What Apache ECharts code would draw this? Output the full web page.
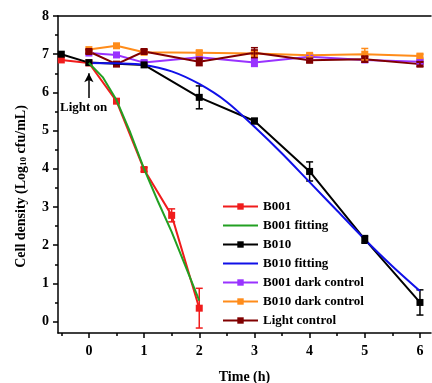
<!DOCTYPE html>
<html>
<head>
<meta charset="utf-8">
<script src="https://cdn.jsdelivr.net/npm/echarts@6/dist/echarts.min.js"></script>
<style>
  html, body { margin: 0; padding: 0; background: #fff; }
  #chart { width: 432px; height: 383px; }
</style>
</head>
<body>
<div id="chart"></div>
<script>
// measured points (time in h, log10 cfu/mL)
const b001Time = [-0.5, 0, 0.5, 1, 1.5, 2]
const b001Vals = [6.85, 6.77, 5.77, 3.98, 2.78, 0.35]
const b001Err = [0, 0, 0.05, 0.05, 0.17, 0.52]

const b001FitTime = [0, 0.25, 0.5, 0.75, 1, 1.25, 1.5, 1.75, 2]
const b001FitVals = [6.77, 6.4, 5.8, 4.95, 4.0, 3.15, 2.35, 1.45, 0.55]

const b010Time = [-0.5, 0, 1, 2, 3, 4, 5, 6]
const b010Vals = [7.0, 6.78, 6.72, 5.87, 5.25, 3.93, 2.15, 0.5]
const b010Err = [0, 0, 0, 0.3, 0.07, 0.25, 0.1, 0.33]

const b010FitTime = [0, 0.5, 1, 1.5, 2, 2.5, 3, 3.5, 4, 4.5, 5, 5.5, 6]
const b010FitVals = [6.77, 6.76, 6.72, 6.55, 6.22, 5.75, 5.1, 4.4, 3.65, 2.9, 2.15, 1.45, 0.8]

const ctrlTime = [0, 0.5, 1, 2, 3, 4, 5, 6]
const b001DarkVals = [7.03, 6.98, 6.78, 6.92, 6.78, 6.93, 6.85, 6.8]
const b001DarkErr = [0, 0.06, 0.05, 0, 0.1, 0.04, 0, 0.05]
const b010DarkVals = [7.12, 7.22, 7.05, 7.04, 7.02, 6.97, 7.0, 6.95]
const b010DarkErr = [0, 0, 0, 0.05, 0.05, 0.04, 0.15, 0.05]
const lightCtrlVals = [7.07, 6.74, 7.07, 6.8, 7.04, 6.84, 6.87, 6.74]
const lightCtrlErr = [0.05, 0.05, 0.05, 0.1, 0.13, 0.05, 0.08, 0.06]

const xMajor = [0, 1, 2, 3, 4, 5, 6]
const xMinor = [-0.5, 0.5, 1.5, 2.5, 3.5, 4.5, 5.5]
const yMajor = [0, 1, 2, 3, 4, 5, 6, 7, 8]
const yMinor = [0.5, 1.5, 2.5, 3.5, 4.5, 5.5, 6.5, 7.5]

const colors = {
    b001: '#f01c1c',
    b001Fit: '#22a022',
    b010: '#000000',
    b010Fit: '#1010e8',
    b001Dark: '#9933ff',
    b010Dark: '#ff8c1a',
    light: '#800000'
}

const font = '"Liberation Serif", "Times New Roman", serif'
const lineIcon = 'path://M0,0 H35 V2 H0 Z'

const pairs = (xs, ys) => xs.map((x, i) => [x, ys[i]])
const errPairs = (xs, ys, es) => xs.map((x, i) => [x, ys[i], es[i]]).filter(d => d[2] > 0)

const errorBars = (data, color) => ({
    type: 'custom',
    silent: true,
    data: data,
    z: 3,
    renderItem: function (params, api) {
        const x = api.value(0), y = api.value(1), e = api.value(2)
        const top = api.coord([x, y + e])
        const bot = api.coord([x, y - e])
        const w = 3.5
        const style = { stroke: color, lineWidth: 1.5 }
        return {
            type: 'group',
            children: [
                { type: 'line', shape: { x1: top[0], y1: top[1], x2: bot[0], y2: bot[1] }, style },
                { type: 'line', shape: { x1: top[0] - w, y1: top[1], x2: top[0] + w, y2: top[1] }, style },
                { type: 'line', shape: { x1: bot[0] - w, y1: bot[1], x2: bot[0] + w, y2: bot[1] }, style }
            ]
        }
    }
})

const lineSeries = (name, data, color, withSymbol, z) => ({
    name: name,
    type: 'line',
    data: data,
    color: color,
    symbol: withSymbol ? 'rect' : 'none',
    symbolSize: 7,
    smooth: false,
    z: z,
    lineStyle: { width: 2, color: color },
    itemStyle: { color: color },
    emphasis: { disabled: true }
})

const axisText = { color: '#000', fontFamily: font, fontWeight: 'bold', fontSize: 14 }

const chart = echarts.init(document.getElementById('chart'), null, { renderer: 'canvas' })

const option = {
    animation: false,
    grid: { left: 58, right: 1, top: 16, bottom: 50, containLabel: false, outerBoundsMode: 'none' },
    legend: {
        orient: 'vertical',
        left: 217,
        top: 195,
        itemWidth: 35,
        itemHeight: 8,
        itemGap: 6,
        textStyle: { color: '#000', fontFamily: font, fontWeight: 'bold', fontSize: 13 },
        data: [
            'B001',
            { name: 'B001 fitting', icon: lineIcon },
            'B010',
            { name: 'B010 fitting', icon: lineIcon },
            'B001 dark control',
            'B010 dark control',
            'Light control'
        ]
    },
    xAxis: [
        {
            type: 'value', min: -0.56, max: 6.2, position: 'bottom',
            axisLine: { onZero: false, lineStyle: { color: '#000', width: 1.5 } },
            axisTick: { customValues: xMajor, length: 5, lineStyle: { color: '#000', width: 1.5 } },
            axisLabel: Object.assign({ customValues: xMajor, margin: 11 }, axisText),
            splitLine: { show: false },
            name: 'Time (h)', nameLocation: 'middle', nameGap: 37,
            nameTextStyle: Object.assign({}, axisText, { fontSize: 14 })
        },
        {
            type: 'value', min: -0.56, max: 6.2, position: 'bottom',
            axisLine: { show: false, onZero: false },
            axisTick: { customValues: xMinor, length: 3, lineStyle: { color: '#000', width: 1.5 } },
            axisLabel: { show: false },
            splitLine: { show: false }
        },
        {
            type: 'value', min: -0.56, max: 6.2, position: 'top',
            axisLine: { onZero: false, lineStyle: { color: '#000', width: 1.5 } },
            axisTick: { show: false },
            axisLabel: { show: false },
            splitLine: { show: false }
        }
    ],
    yAxis: [
        {
            type: 'value', min: -0.3, max: 8, position: 'left',
            axisLine: { show: true, onZero: false, lineStyle: { color: '#000', width: 1.5 } },
            axisTick: { show: true, customValues: yMajor, length: 5, lineStyle: { color: '#000', width: 1.5 } },
            axisLabel: Object.assign({ customValues: yMajor, margin: 9 }, axisText),
            splitLine: { show: false },
            name: '{a|Cell density (Log}{s|10}{a| cfu/mL)}',
            nameLocation: 'middle', nameGap: 30,
            nameTextStyle: {
                padding: [0, 24, 0, 0],
                rich: {
                    a: { color: '#000', fontFamily: font, fontWeight: 'bold', fontSize: 14 },
                    s: { color: '#000', fontFamily: font, fontWeight: 'bold', fontSize: 9, verticalAlign: 'bottom', lineHeight: 10 }
                }
            }
        },
        {
            type: 'value', min: -0.3, max: 8, position: 'left',
            axisLine: { show: false, onZero: false },
            axisTick: { show: true, customValues: yMinor, length: 3, lineStyle: { color: '#000', width: 1.5 } },
            axisLabel: { show: false },
            splitLine: { show: false }
        }
    ],
    graphic: [
        {
            type: 'text', left: 60, top: 101,
            style: { text: 'Light on', fill: '#000', font: 'bold 13px ' + font }
        }
    ],
    series: [
        lineSeries('B001 dark control', pairs(ctrlTime, b001DarkVals), colors.b001Dark, true, 2),
        lineSeries('B010 dark control', pairs(ctrlTime, b010DarkVals), colors.b010Dark, true, 2),
        lineSeries('Light control', pairs(ctrlTime, lightCtrlVals), colors.light, true, 2),
        errorBars(errPairs(ctrlTime, b001DarkVals, b001DarkErr), colors.b001Dark),
        errorBars(errPairs(ctrlTime, b010DarkVals, b010DarkErr), colors.b010Dark),
        errorBars(errPairs(ctrlTime, lightCtrlVals, lightCtrlErr), colors.light),
        Object.assign(lineSeries('B001', pairs(b001Time, b001Vals), colors.b001, true, 4), {
            markLine: {
                silent: true,
                symbol: ['none', 'arrow'],
                symbolSize: [7, 9],
                label: { show: false },
                lineStyle: { color: '#000', width: 1.5, type: 'solid' },
                data: [[{ coord: [0, 5.85] }, { coord: [0, 6.5] }]]
            }
        }),
        lineSeries('B001 fitting', pairs(b001FitTime, b001FitVals), colors.b001Fit, false, 5),
        errorBars(errPairs(b001Time, b001Vals, b001Err), colors.b001),
        lineSeries('B010', pairs(b010Time, b010Vals), colors.b010, true, 4),
        Object.assign(lineSeries('B010 fitting', pairs(b010FitTime, b010FitVals), colors.b010Fit, false, 4), { smooth: 0.3 }),
        errorBars(errPairs(b010Time, b010Vals, b010Err), colors.b010)
    ]
}

chart.setOption(option)
</script>
</body>
</html>
